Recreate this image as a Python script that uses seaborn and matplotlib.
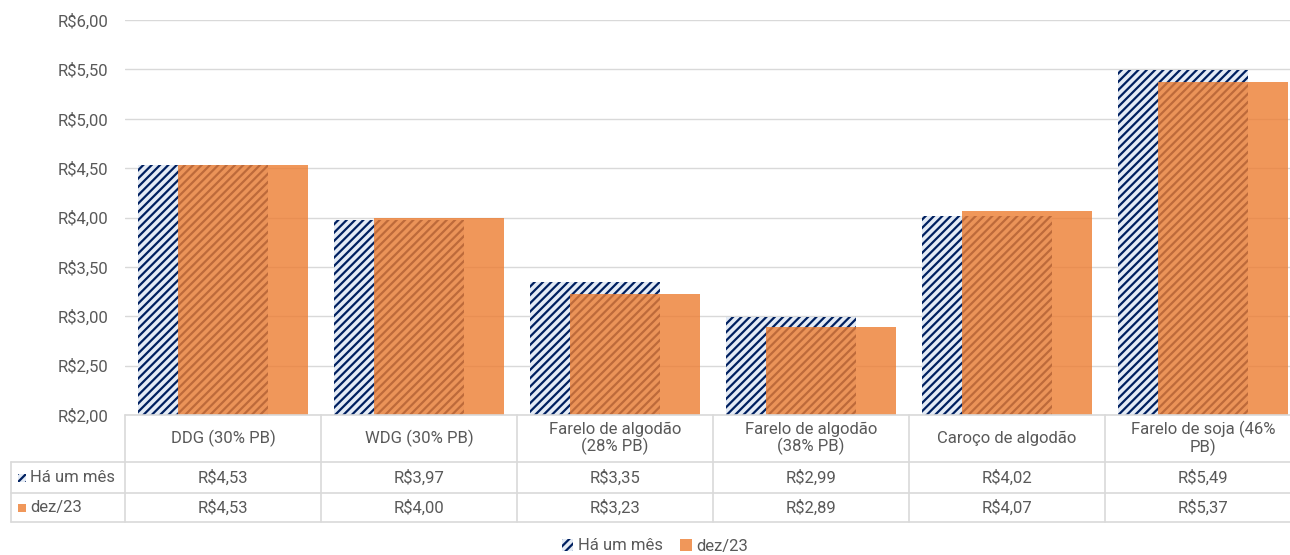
import numpy as np
import pandas as pd
import seaborn as sns
import matplotlib.pyplot as plt
from matplotlib.patches import Patch, Rectangle

categorias = ["DDG (30% PB)", "WDG (30% PB)", "Farelo de algodão\n(28% PB)",
              "Farelo de algodão\n(38% PB)", "Caroço de algodão", "Farelo de soja (46%\nPB)"]
ha_um_mes = [4.53, 3.97, 3.35, 2.99, 4.02, 5.49]
dez23 = [4.53, 4.00, 3.23, 2.89, 4.07, 5.37]
series = ["Há um mês", "dez/23"]
yticks = [2.0, 2.5, 3.0, 3.5, 4.0, 4.5, 5.0, 5.5, 6.0]

navy = "#002060"
stripe_bg = "#e4ebf5"
orange = "#ED7D31"
grey_txt = "#595959"
grid_c = "#d9d9d9"

def brl(v):
    return ("R$%.2f" % v).replace(".", ",")

sns.set_style("white")
plt.rcParams["font.family"] = ["Roboto", "DejaVu Sans"]
plt.rcParams["hatch.color"] = navy
plt.rcParams["hatch.linewidth"] = 1.6

fig = plt.figure(figsize=(12.9, 5.55), dpi=100)
ax = fig.add_axes([125/1290, 1-415/555, (1301-125)/1290, 395/555])

bw = 0.668
off = 0.102
sns.barplot(x=categorias, y=ha_um_mes, color=stripe_bg, saturation=1, width=bw,
            hatch="////", edgecolor=navy, linewidth=0, ax=ax)
sns.barplot(x=categorias, y=dez23, color=orange, saturation=1, width=bw,
            alpha=0.8, linewidth=0, ax=ax)
for p in ax.patches[:6]:
    p.set_x(p.get_x() - off)
for p in ax.patches[6:12]:
    p.set_x(p.get_x() + off)

ax.set_ylim(2, 6)
ax.set_xlim(-0.5, 5.5)
ax.set_yticks(yticks)
ax.set_yticklabels([brl(v) for v in yticks], color=grey_txt, fontsize=12)
ax.tick_params(axis="y", length=0, pad=12)
ax.set_xticks([])
ax.set_xlabel("")
ax.yaxis.grid(True, color=grid_c, linewidth=1)
ax.set_axisbelow(True)
for s in ax.spines.values():
    s.set_visible(False)

# data table under the chart
tr = ax.get_xaxis_transform()
h0, h1, h2 = -47/395, -78/395, -107/395
xl = -0.5 - 114/196
n = len(categorias)
kw = dict(transform=tr, clip_on=False, color=grid_c, linewidth=1.2)
ax.plot([-0.5, n - 0.5], [0, 0], **kw)
ax.plot([xl, n - 0.5], [h0, h0], **kw)
ax.plot([xl, n - 0.5], [h1, h1], **kw)
ax.plot([xl, n - 0.5], [h2, h2], **kw)
ax.plot([xl, xl], [h0, h2], **kw)
for i in range(n + 1):
    ax.plot([i - 0.5, i - 0.5], [0, h2], **kw)

for i, c in enumerate(categorias):
    ax.text(i, h0/2, c, transform=tr, ha="center", va="center", fontsize=12,
            color=grey_txt, linespacing=1.0)
    ax.text(i, (h0+h1)/2, brl(ha_um_mes[i]), transform=tr, ha="center", va="center",
            fontsize=12, color=grey_txt)
    ax.text(i, (h1+h2)/2, brl(dez23[i]), transform=tr, ha="center", va="center",
            fontsize=12, color=grey_txt)

sw = 8/196
sh = 8/395
ax.add_patch(Rectangle((xl + 7/196, (h0+h1)/2 - sh/2), sw, sh, transform=tr, clip_on=False,
                       facecolor=stripe_bg, edgecolor=navy, linewidth=0, hatch="////"))
ax.add_patch(Rectangle((xl + 7/196, (h1+h2)/2 - sh/2), sw, sh, transform=tr, clip_on=False,
                       facecolor=orange, alpha=0.8, linewidth=0))
ax.text(xl + 19/196, (h0+h1)/2, series[0], transform=tr, va="center", fontsize=12, color=grey_txt)
ax.text(xl + 19/196, (h1+h2)/2, series[1], transform=tr, va="center", fontsize=12, color=grey_txt)

handles = [Patch(facecolor=stripe_bg, edgecolor=navy, linewidth=0, hatch="////", label=series[0]),
           Patch(facecolor=orange, alpha=0.8, linewidth=0, label=series[1])]
fig.legend(handles=handles, loc="center", bbox_to_anchor=(655/1290, 1-546/555), ncol=2,
           frameon=False, fontsize=12, handlelength=0.7, handleheight=0.7,
           handletextpad=0.3, columnspacing=1.0, labelcolor=grey_txt)

fig.savefig("out.png", dpi=100)
